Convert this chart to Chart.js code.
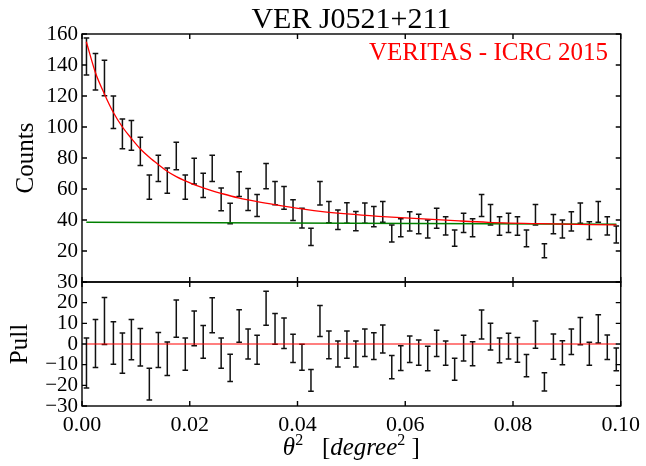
<!DOCTYPE html>
<html>
<head>
<meta charset="utf-8">
<script src="https://cdn.jsdelivr.net/npm/chart.js@4.4.1/dist/chart.umd.min.js"></script>
<style>
  body { margin: 0; background: #fff; }
</style>
</head>
<body>
<canvas id="myChart" width="646" height="466"></canvas>
<script>
// theta^2 bin centres (degree^2)
var thetaSq = [0.00083, 0.00250, 0.00417, 0.00583, 0.00750, 0.00917, 0.01083, 0.01250, 0.01417, 0.01583,
               0.01750, 0.01917, 0.02083, 0.02250, 0.02417, 0.02583, 0.02750, 0.02917, 0.03083, 0.03250,
               0.03417, 0.03583, 0.03750, 0.03917, 0.04083, 0.04250, 0.04417, 0.04583, 0.04750, 0.04917,
               0.05083, 0.05250, 0.05417, 0.05583, 0.05750, 0.05917, 0.06083, 0.06250, 0.06417, 0.06583,
               0.06750, 0.06917, 0.07083, 0.07250, 0.07417, 0.07583, 0.07750, 0.07917, 0.08083, 0.08250,
               0.08417, 0.08583, 0.08750, 0.08917, 0.09083, 0.09250, 0.09417, 0.09583, 0.09750, 0.09917];
var counts = [145.5, 135.7, 131.6, 109.5, 95.5, 94.6, 84.3, 61.2, 73.3, 65.4, 81.3, 61.2, 71.5, 62.3, 73.3,
              53.3, 44.2, 63.1, 53.2, 49.3, 68.3, 57.4, 54.3, 46.3, 41.2, 29.1, 57.3, 45.1, 40.2, 44.5,
              39.3, 44.4, 42.2, 45.2, 31.3, 35.0, 39.1, 37.4, 34.2, 41.1, 36.2, 28.3, 38.2, 35.0, 49.3,
              43.4, 36.1, 38.2, 36.1, 28.1, 43.4, 20.1, 37.3, 34.2, 39.1, 44.4, 33.2, 45.2, 36.2, 30.6];
var countErr = [11.9, 11.8, 11.4, 10.5, 9.6, 9.6, 9.1, 7.8, 8.4, 8.1, 8.9, 7.8, 8.3, 7.8, 8.4,
                7.3, 6.6, 8.0, 7.1, 7.1, 8.2, 7.5, 7.3, 6.7, 6.4, 5.5, 7.6, 6.8, 6.3, 6.6,
                6.2, 6.5, 6.5, 6.7, 5.5, 5.8, 6.2, 6.3, 5.8, 6.5, 5.9, 5.3, 6.2, 5.8, 7.1,
                6.6, 6.0, 6.2, 6.0, 5.4, 6.6, 4.5, 6.2, 5.8, 6.2, 6.5, 5.7, 6.7, 5.9, 5.5];
var pull = [-9.2, 0.2, 11.1, 0.5, -4.4, 2.1, -1.6, -19.4, -2.9, -7.1, 12.3, -4.9, 7.6, 1.0, 13.9,
            -4.4, -11.6, 8.7, 0.0, -2.8, 17.3, 7.3, 5.2, -2.1, -6.4, -17.6, 11.1, -0.4, -4.8, -0.3,
            -4.8, 0.6, -1.0, 2.4, -11.2, -6.8, -2.5, -4.2, -7.0, 0.3, -4.4, -12.2, -2.0, -4.7, 9.4,
            3.6, -3.1, -1.0, -2.8, -10.5, 4.5, -18.3, -1.3, -4.2, 1.1, 6.2, -4.7, 7.3, -1.6, -7.4];
var pullErr = [12.1, 11.6, 11.4, 10.3, 9.7, 9.7, 9.1, 7.7, 8.5, 8.1, 9.0, 7.8, 8.4, 7.9, 8.5,
               7.3, 6.6, 7.9, 7.3, 7.0, 8.2, 7.4, 7.4, 6.8, 6.3, 5.3, 7.5, 6.7, 6.3, 6.6,
               6.3, 6.7, 6.5, 6.8, 5.6, 6.0, 6.4, 6.1, 5.9, 6.4, 5.9, 5.3, 6.2, 5.8, 7.0,
               6.5, 6.0, 6.2, 6.0, 5.4, 6.6, 4.4, 6.1, 5.8, 6.2, 6.6, 5.6, 6.8, 5.9, 5.5];
// fit curve
var fitX = [0.0008, 0.0025, 0.0042, 0.0058, 0.0075, 0.0092, 0.0108, 0.0125, 0.0142, 0.0158, 0.0175, 0.0192,
            0.0208, 0.0225, 0.0242, 0.0258, 0.0290, 0.0325, 0.0360, 0.0408, 0.0450, 0.0492, 0.0550, 0.0625,
            0.0700, 0.0754, 0.0850, 0.0992];
var fitY = [155, 135, 121, 109.5, 100, 92.5, 86, 80.5, 75.7, 71.5, 68, 65.2,
            62.8, 60.7, 58.8, 57.2, 54.3, 51.9, 49.8, 47.2, 45.3, 43.9, 42.4, 40.9,
            39.4, 38.5, 37.6, 36.8];
// background level
var bgX = [0.0008, 0.0992];
var bgY = [38.6, 37.2];
var zeroX = [0.0008, 0.0992];
var zeroY = [0, 0];

var serif = "'Liberation Serif', 'DejaVu Serif', serif";

function pts(xs, ys) {
    return xs.map(function (x, i) { return { x: x, y: ys[i] }; });
}

var decor = {
    id: 'decor',
    beforeDatasetsDraw: function (chart) {
        var ctx = chart.ctx;
        ctx.save();
        ctx.strokeStyle = '#111';
        ctx.lineWidth = 1.5;
        chart.data.datasets.forEach(function (ds, i) {
            if (!ds.errors) return;
            var ys = chart.scales[ds.yAxisID];
            var meta = chart.getDatasetMeta(i);
            meta.data.forEach(function (pt, j) {
                var v = ds.data[j].y, e = ds.errors[j];
                var top = ys.getPixelForValue(v + e), bot = ys.getPixelForValue(v - e);
                ctx.beginPath();
                ctx.moveTo(pt.x, top); ctx.lineTo(pt.x, bot);
                ctx.moveTo(pt.x - 2.8, top); ctx.lineTo(pt.x + 2.8, top);
                ctx.moveTo(pt.x - 2.8, bot); ctx.lineTo(pt.x + 2.8, bot);
                ctx.stroke();
            });
        });
        ctx.restore();
    },
    afterDraw: function (chart) {
        var ctx = chart.ctx;
        var xs = chart.scales.x;
        var panels = [chart.scales.y, chart.scales.yPull];
        ctx.save();
        ctx.strokeStyle = '#000';
        ctx.lineWidth = 1.4;
        panels.forEach(function (ys) {
            ctx.strokeRect(xs.left, ys.top, xs.right - xs.left, ys.bottom - ys.top);
            ctx.beginPath();
            xs.ticks.forEach(function (t) {
                var px = xs.getPixelForValue(t.value);
                ctx.moveTo(px, ys.top); ctx.lineTo(px, ys.top + 5);
                ctx.moveTo(px, ys.bottom); ctx.lineTo(px, ys.bottom - 5);
            });
            ys.ticks.forEach(function (t) {
                var py = ys.getPixelForValue(t.value);
                ctx.moveTo(xs.left, py); ctx.lineTo(xs.left + 5, py);
                ctx.moveTo(xs.right, py); ctx.lineTo(xs.right - 5, py);
            });
            ctx.stroke();
        });

        var cx = (xs.left + xs.right) / 2;
        ctx.fillStyle = '#000';
        ctx.textBaseline = 'alphabetic';
        ctx.textAlign = 'center';
        ctx.font = '30px ' + serif;
        ctx.fillText('VER J0521+211', cx, 28);

        ctx.fillStyle = '#ff0000';
        ctx.textAlign = 'right';
        ctx.font = '25px ' + serif;
        ctx.fillText('VERITAS - ICRC 2015', 608, 60);

        ctx.fillStyle = '#000';
        ctx.textAlign = 'center';
        var yt = chart.scales.y, yp = chart.scales.yPull;
        ctx.save();
        ctx.translate(33, (yt.top + yt.bottom) / 2);
        ctx.rotate(-Math.PI / 2);
        ctx.fillText('Counts', 0, 0);
        ctx.restore();
        ctx.save();
        ctx.translate(27, (yp.top + yp.bottom) / 2);
        ctx.rotate(-Math.PI / 2);
        ctx.fillText('Pull', 0, 0);
        ctx.restore();

        // x axis label: theta^2 [degree^2 ]
        var parts = [
            { t: '\u03b8', f: 'italic 25px ' + serif, dy: 0 },
            { t: '2', f: '16px ' + serif, dy: -10 },
            { t: '   [', f: '25px ' + serif, dy: 0 },
            { t: 'degree', f: 'italic 25px ' + serif, dy: 0 },
            { t: '2', f: '16px ' + serif, dy: -10 },
            { t: ' ]', f: '25px ' + serif, dy: 0 }
        ];
        var total = 0;
        parts.forEach(function (p) { ctx.font = p.f; p.w = ctx.measureText(p.t).width; total += p.w; });
        var x0 = cx - total / 2;
        ctx.textAlign = 'left';
        parts.forEach(function (p) {
            ctx.font = p.f;
            ctx.fillText(p.t, x0, 455 + p.dy);
            x0 += p.w;
        });
        ctx.restore();
    }
};

var tickFont = { family: serif, size: 21 };

new Chart('myChart', {
    type: 'scatter',
    data: {
        datasets: [
            { label: 'counts', data: pts(thetaSq, counts), errors: countErr, yAxisID: 'y', pointRadius: 0, pointHoverRadius: 0 },
            { label: 'fit', data: pts(fitX, fitY), yAxisID: 'y', showLine: true, borderColor: '#ff0000', borderWidth: 1.3, pointRadius: 0, cubicInterpolationMode: 'monotone' },
            { label: 'background', data: pts(bgX, bgY), yAxisID: 'y', showLine: true, borderColor: '#008000', borderWidth: 1.5, pointRadius: 0 },
            { label: 'pull', data: pts(thetaSq, pull), errors: pullErr, yAxisID: 'yPull', pointRadius: 0, pointHoverRadius: 0 },
            { label: 'zero', data: pts(zeroX, zeroY), yAxisID: 'yPull', showLine: true, borderColor: '#ff0000', borderWidth: 1.2, pointRadius: 0 }
        ]
    },
    options: {
        responsive: false,
        animation: false,
        events: [],
        layout: { padding: { left: 0, right: 23, top: 34, bottom: 0 } },
        plugins: { legend: { display: false }, tooltip: { enabled: false } },
        scales: {
            x: {
                type: 'linear', min: 0, max: 0.1,
                ticks: { stepSize: 0.02, font: { family: serif, size: 22 }, color: '#000', padding: 6, maxRotation: 0, autoSkip: false,
                         callback: function (v) { return v.toFixed(2); } },
                grid: { display: false, drawTicks: false },
                border: { display: false },
                afterFit: function (s) { s.height = 60; }
            },
            yPull: {
                type: 'linear', position: 'left', stack: 'panels', stackWeight: 1, min: -30, max: 30,
                ticks: { stepSize: 10, font: tickFont, color: '#000', padding: 4, autoSkip: false,
                         callback: function (v) { return v < 0 ? '\u2212' + Math.abs(v) : '' + v; } },
                grid: { display: false, drawTicks: false },
                border: { display: false },
                afterFit: function (s) { s.width = 82; }
            },
            y: {
                type: 'linear', position: 'left', stack: 'panels', stackWeight: 2, min: 0, max: 160,
                ticks: { stepSize: 20, font: tickFont, color: '#000', padding: 4, autoSkip: false,
                         callback: function (v) { return v === 0 ? '' : '' + v; } },
                grid: { display: false, drawTicks: false },
                border: { display: false },
                afterFit: function (s) { s.width = 82; }
            }
        }
    },
    plugins: [decor]
});
</script>
</body>
</html>
